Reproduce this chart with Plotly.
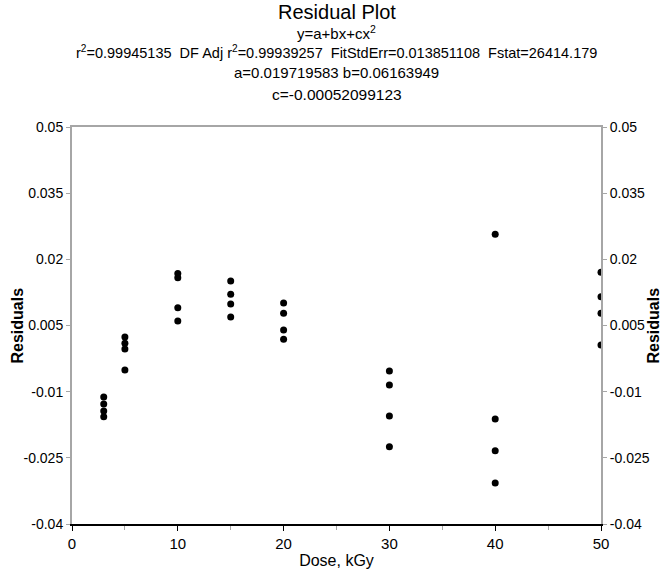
import plotly.graph_objects as go

# Residuals of the quadratic dose-response fit, grouped by dose
dose = [3, 3, 3, 3,
        5, 5, 5, 5,
        10, 10, 10, 10,
        15, 15, 15, 15,
        20, 20, 20, 20,
        30, 30, 30, 30,
        40, 40, 40, 40,
        50, 50, 50, 50]
residual = [-0.0112, -0.0128, -0.0144, -0.0157,
            0.0024, 0.0010, -0.0003, -0.0051,
            0.0168, 0.0158, 0.0090, 0.0060,
            0.0151, 0.0121, 0.0099, 0.0069,
            0.0101, 0.0078, 0.0040, 0.0019,
            -0.0053, -0.0085, -0.0155, -0.0225,
            0.0257, -0.0162, -0.0234, -0.0307,
            0.0171, 0.0115, 0.0078, 0.0006]

y_ticks = [0.05, 0.035, 0.02, 0.005, -0.01, -0.025, -0.04]
y_tick_text = ["0.05", "0.035", "0.02", "0.005", "-0.01", "-0.025", "-0.04"]
x_ticks = [0, 10, 20, 30, 40, 50]

title_lines = [
    ("Residual Plot", 20),
    ("y=a+bx+cx<sup>2</sup>", 15),
    ("r<sup>2</sup>=0.99945135  DF Adj r<sup>2</sup>=0.99939257  FitStdErr=0.013851108  Fstat=26414.179", 14.5),
    ("a=0.019719583 b=0.06163949", 15),
    ("c=-0.00052099123", 15.5),
]
# vertical centre of each heading line, in pixels from the top of the page
title_y = [12, 33, 52, 73, 95]

FONT = "Liberation Sans, Arial, sans-serif"
GRAY = "#a6a6a6"
Y_RANGE = [-0.04, 0.05]
X_RANGE = [0, 50]

W, H = 666, 573
M = dict(l=72, r=65, t=127, b=49)
plot_w = W - M["l"] - M["r"]
plot_h = H - M["t"] - M["b"]

fig = go.Figure()
fig.add_trace(go.Scatter(
    x=dose, y=residual, mode="markers",
    marker=dict(color="black", size=7),
    showlegend=False, hoverinfo="x+y",
))
# Companion trace that carries the top frame line and the right-hand axis
fig.add_trace(go.Scatter(
    x=dose, y=residual, mode="markers", xaxis="x2", yaxis="y2",
    marker=dict(color="rgba(0,0,0,0)", size=1),
    showlegend=False, hoverinfo="skip",
))

for (txt, size), ty in zip(title_lines, title_y):
    fig.add_annotation(
        text=txt, x=0.5, xref="paper", y=1 + (M["t"] - ty) / plot_h, yref="paper",
        showarrow=False, font=dict(size=size, color="black", family=FONT),
        xanchor="center", yanchor="middle",
    )

# "Residuals" on both sides, placed by pixel column
for px in (17, 653):
    fig.add_annotation(
        text="<b>Residuals</b>", textangle=-90,
        x=(px - M["l"]) / plot_w, xref="paper", y=0.5, yref="paper",
        showarrow=False, font=dict(size=16, color="black", family=FONT),
        xanchor="center", yanchor="middle",
    )

fig.update_layout(
    width=W, height=H,
    margin=M,
    paper_bgcolor="white", plot_bgcolor="white",
    font=dict(family=FONT, color="black", size=14),
    xaxis=dict(
        range=X_RANGE, tickvals=x_ticks, ticks="outside", ticklen=5,
        tickcolor="black", showline=True, linecolor="black", linewidth=1.5,
        showgrid=False, zeroline=False, automargin=False,
        minor=dict(dtick=5, tick0=0, ticks="outside", ticklen=4, tickcolor=GRAY, showgrid=False),
        title=dict(text="Dose, kGy", font=dict(size=16), standoff=4),
        tickfont=dict(size=15),
    ),
    yaxis=dict(
        range=Y_RANGE, tickvals=y_ticks, ticktext=y_tick_text,
        ticks="outside", ticklen=4, tickcolor=GRAY,
        showline=True, linecolor=GRAY, linewidth=2,
        showgrid=False, zeroline=False, automargin=False,
        tickfont=dict(size=14),
    ),
    xaxis2=dict(
        range=X_RANGE, overlaying="x", side="top", anchor="y2",
        showline=True, linecolor=GRAY, linewidth=2, automargin=False,
        showticklabels=False, ticks="", showgrid=False, zeroline=False,
    ),
    yaxis2=dict(
        range=Y_RANGE, overlaying="y", side="right", anchor="x2",
        tickvals=y_ticks, ticktext=y_tick_text,
        ticks="outside", ticklen=4, tickcolor=GRAY,
        showline=True, linecolor=GRAY, linewidth=2,
        showgrid=False, zeroline=False, automargin=False,
        tickfont=dict(size=14),
    ),
)

fig.write_html("out.html")
